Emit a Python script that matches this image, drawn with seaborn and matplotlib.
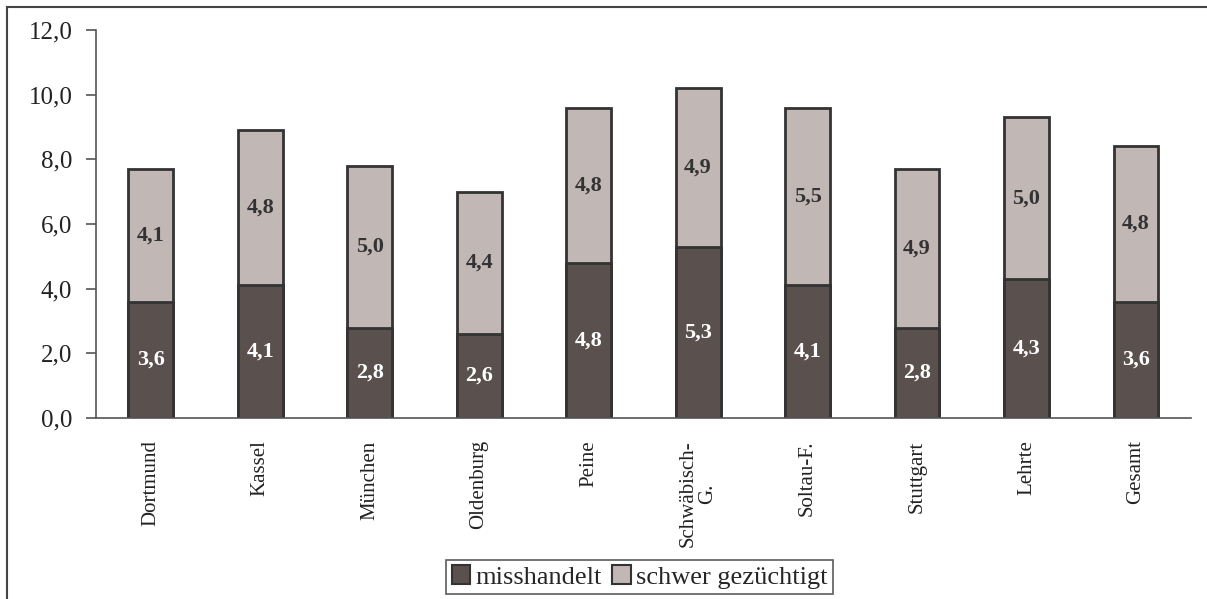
import pandas as pd
import numpy as np
import matplotlib.pyplot as plt
import seaborn as sns
from matplotlib.patches import Patch, Rectangle

sns.set_style("white")
plt.rcParams['font.family'] = ['Liberation Serif', 'DejaVu Serif']


#----------------------------------------------------------------------
cities = ["Dortmund", "Kassel", "München", "Oldenburg", "Peine",
          "Schwäbisch-\nG.", "Soltau-F.", "Stuttgart", "Lehrte", "Gesamt"]
misshandelt = [3.6, 4.1, 2.8, 2.6, 4.8, 5.3, 4.1, 2.8, 4.3, 3.6]
gezuechtigt = [4.1, 4.8, 5.0, 4.4, 4.8, 4.9, 5.5, 4.9, 5.0, 4.8]

data = pd.DataFrame({"city": cities, "misshandelt": misshandelt,
                     "schwer": gezuechtigt})
data["total"] = data["misshandelt"] + data["schwer"]

dark = "#5a504d"
light = "#c1b8b6"
edge = "#333333"


#----------------------------------------------------------------------
fig = plt.figure(figsize=(12.07, 5.99), dpi=100)
ax = fig.add_axes([0.0795, 0.302, 0.907, 0.648])

sns.barplot(data=data, x="city", y="total", color=light, edgecolor=edge,
            linewidth=2, width=0.41, saturation=1, ax=ax)
sns.barplot(data=data, x="city", y="misshandelt", color=dark, edgecolor=edge,
            linewidth=2, width=0.41, saturation=1, ax=ax)

for i, row in data.iterrows():
    ax.text(i, row["misshandelt"] / 2, f"{row['misshandelt']:.1f}".replace(".", ","),
            ha="center", va="center", color="white", fontsize=16, fontweight="bold")
    ax.text(i, row["misshandelt"] + row["schwer"] / 2,
            f"{row['schwer']:.1f}".replace(".", ","),
            ha="center", va="center", color="#333333", fontsize=16, fontweight="bold")

ax.set_ylim(0, 12)
ax.set_xlim(-0.5, len(cities) - 0.5)
ax.set_yticks(np.arange(0, 13, 2))
ax.set_yticklabels([f"{v:.1f}".replace(".", ",") for v in np.arange(0, 13, 2)],
                   fontsize=18, color="#222222")
ax.set_xticks(range(len(cities)))
ax.set_xticklabels(cities, rotation=90, fontsize=15, color="#222222",
                   linespacing=1.0)
ax.set_xticks(np.arange(-0.5, len(cities)), minor=True)
ax.tick_params(axis="x", which="major", length=0, pad=16)
ax.tick_params(axis="x", which="minor", length=7, color="#555555", width=1.2,
               direction="out")
ax.tick_params(axis="y", length=7, color="#555555", width=1.2, direction="out",
               pad=10, left=True)
ax.set_xlabel("")
ax.set_ylabel("")

for s in ["top", "right"]:
    ax.spines[s].set_visible(False)
for s in ["left", "bottom"]:
    ax.spines[s].set_color("#555555")
    ax.spines[s].set_linewidth(1.2)


#----------------------------------------------------------------------
handles = [Patch(facecolor=dark, edgecolor=edge, linewidth=1.5, label="misshandelt"),
           Patch(facecolor=light, edgecolor=edge, linewidth=1.5, label="schwer gezüchtigt")]
leg = fig.legend(handles=handles, loc="center", bbox_to_anchor=(0.53, 0.037),
                 ncol=2, fontsize=19, frameon=True, fancybox=False,
                 handlelength=0.7, handleheight=0.7, handletextpad=0.2,
                 columnspacing=0.4, borderpad=0.2, borderaxespad=0)
leg.get_frame().set_edgecolor("#333333")
leg.get_frame().set_linewidth(1.2)

fig.patches.append(Rectangle((7 / 1207, -0.1), 1.2, 1 - 7 / 599 + 0.1,
                             transform=fig.transFigure, fill=False,
                             edgecolor="#444444", linewidth=1.5))

plt.savefig("out.png", dpi=100)
plt.close()
